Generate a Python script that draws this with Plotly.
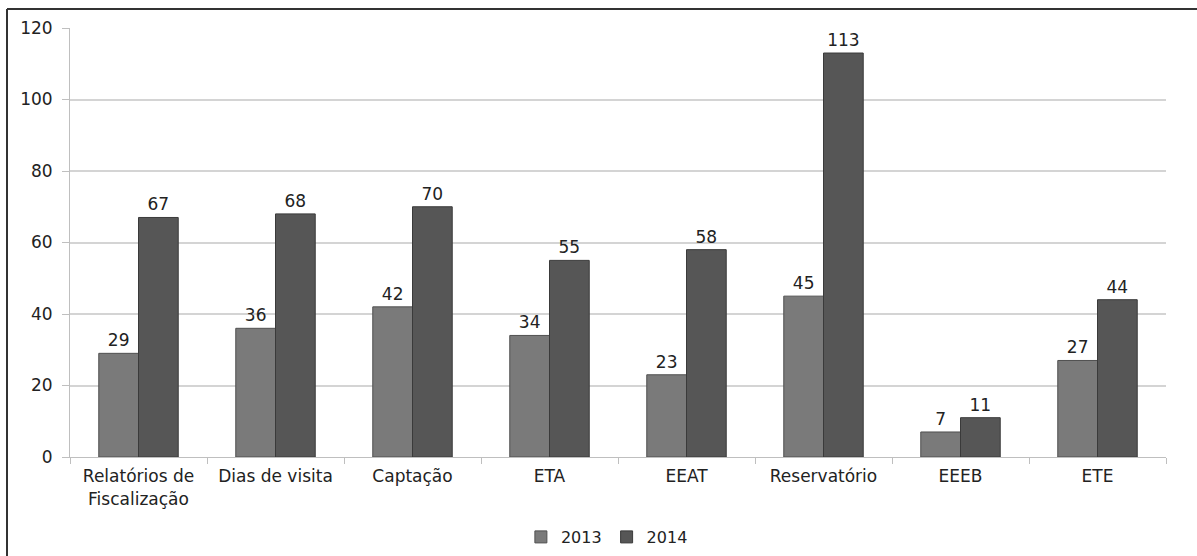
import plotly.graph_objects as go

categories = ["Relatórios de<br>Fiscalização", "Dias de visita", "Captação", "ETA", "EEAT",
              "Reservatório", "EEEB", "ETE"]
values_2013 = [29, 36, 42, 34, 23, 45, 7, 27]
values_2014 = [67, 68, 70, 55, 58, 113, 11, 44]
y_ticks = [0, 20, 40, 60, 80, 100, 120]

FONT = "DejaVu Sans"
FS = 17

fig = go.Figure()
fig.add_trace(go.Bar(
    name="2013", x=categories, y=values_2013,
    marker=dict(color="#7a7a7a", line=dict(color="#505050", width=1)),
    text=values_2013, textposition="outside", cliponaxis=False,
    textfont=dict(family=FONT, size=FS, color="#222222"),
))
fig.add_trace(go.Bar(
    name="2014", x=categories, y=values_2014,
    marker=dict(color="#565656", line=dict(color="#3a3a3a", width=1)),
    text=values_2014, textposition="outside", cliponaxis=False,
    textfont=dict(family=FONT, size=FS, color="#222222"),
))

fig.update_layout(
    width=1197, height=556,
    margin=dict(l=70, r=31, t=28, b=99),
    paper_bgcolor="white", plot_bgcolor="white",
    barmode="group", bargap=0.42, bargroupgap=0,
    font=dict(family=FONT, size=FS, color="#222222"),
    showlegend=True,
    legend=dict(orientation="h", x=0.507, xanchor="center", xref="container",
                y=1 - 537 / 556, yanchor="middle", yref="container",
                font=dict(family=FONT, size=16, color="#222222"), itemwidth=30,
                traceorder="normal"),
    xaxis=dict(
        type="category", showgrid=False, showline=True, linecolor="#bfbfbf", linewidth=1,
        ticks="outside", tickson="boundaries", ticklen=6, tickcolor="#bfbfbf",
        ticklabelstandoff=4,
        tickfont=dict(family=FONT, size=FS, color="#222222"),
    ),
    yaxis=dict(
        range=[0, 120], tickvals=y_ticks, showgrid=True, gridcolor="#d4d4d4", gridwidth=1.5,
        showline=True, linecolor="#bfbfbf", linewidth=1, zeroline=False,
        ticks="outside", ticklen=7, tickcolor="#bfbfbf",
        ticklabelstandoff=6,
        tickfont=dict(family=FONT, size=FS, color="#222222"),
    ),
    shapes=[
        dict(type="line", xref="paper", yref="paper",
             x0=(7 - 70) / 1096, x1=(1197 - 70) / 1096,
             y0=(457 - 9) / 429, y1=(457 - 9) / 429,
             line=dict(color="#333333", width=2)),
        dict(type="line", xref="paper", yref="paper",
             x0=(7 - 70) / 1096, x1=(7 - 70) / 1096,
             y0=(457 - 9) / 429, y1=(457 - 560) / 429,
             line=dict(color="#333333", width=2)),
    ],
)

fig.write_html("out.html")
